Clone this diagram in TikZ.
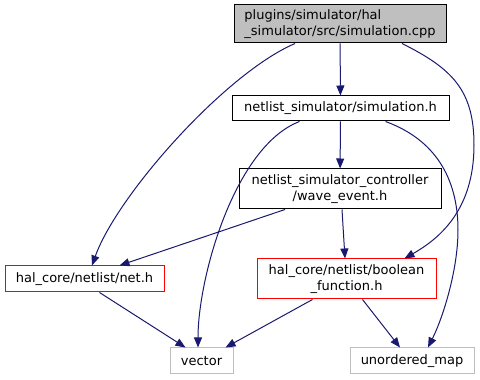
\documentclass[tikz,border=0pt]{standalone}
\usepackage{fontspec}
\setmainfont{DejaVu Sans}
\usetikzlibrary{arrows.meta,calc}
\definecolor{edgec}{HTML}{191970}
\definecolor{grayb}{HTML}{BFBFBF}
\begin{document}
\begin{tikzpicture}[x=1pt,y=1pt,
  box/.style={draw=black,fill=white,line width=1pt,inner sep=0pt,align=center,font=\fontsize{13}{16.5}\selectfont},
  redbox/.style={box,draw=red},
  graybox/.style={box,draw=grayb},
  topbox/.style={box,fill=grayb,align=left},
  edge/.style={draw=edgec,line width=1pt,-{Triangle[length=10pt,width=8pt]}}]
\useasboundingbox (0,0) rectangle (480,380);
\node[topbox,minimum width=212pt,minimum height=38pt] (top) at (340,356) {plugins/simulator/hal\\\_simulator/src/simulation.cpp};
\node[box,minimum width=217pt,minimum height=25pt] (sim) at (340.5,271.5) {netlist\_simulator/simulation.h};
\node[box,minimum width=202pt,minimum height=40pt] (wave) at (340,191) {netlist\_simulator\_controller\\/wave\_event.h};
\node[redbox,minimum width=159pt,minimum height=26pt] (net) at (84.5,101) {hal\_core/netlist/net.h};
\node[redbox,minimum width=179pt,minimum height=40pt] (bool) at (346.5,101) {hal\_core/netlist/boolean\\\_function.h};
\node[graybox,minimum width=63pt,minimum height=26pt] (vec) at (201.5,19) {vector};
\node[graybox,minimum width=124pt,minimum height=26pt] (umap) at (412,19) {unordered\_map};

\draw[edge] (top) -- (sim);
\draw[edge] ([xshift=-45pt]top.south) .. controls +(-70,-30) and +(25,70) .. ([xshift=7.5pt]net.north);
\draw[edge] ([xshift=62pt]top.south) .. controls +(50,-25) and +(0,55) .. (474,235) .. controls +(0,-65) and +(35,20) .. ([xshift=58pt]bool.north);
\draw[edge] ([xshift=-41pt]sim.south) .. controls +(-65,-25) and +(0,70) .. ([xshift=-3.5pt]vec.north);
\draw[edge] (sim) -- (wave);
\draw[edge] ([xshift=45pt]sim.south) .. controls +(55,-20) and +(0,45) .. (458,150) .. controls +(0,-40) and +(15,30) .. ([xshift=16pt]umap.north);
\draw[edge] ([xshift=-55pt]wave.south) -- ([xshift=35pt]net.north);
\draw[edge] ([xshift=2pt]wave.south) -- ([xshift=-1.5pt]bool.north);
\draw[edge] ([xshift=15pt]net.south) -- ([xshift=-16pt]vec.north);
\draw[edge] ([xshift=-34pt]bool.south) -- ([xshift=24pt]vec.north);
\draw[edge] ([xshift=16pt]bool.south) -- ([xshift=-12pt]umap.north);
\end{tikzpicture}
\end{document}
